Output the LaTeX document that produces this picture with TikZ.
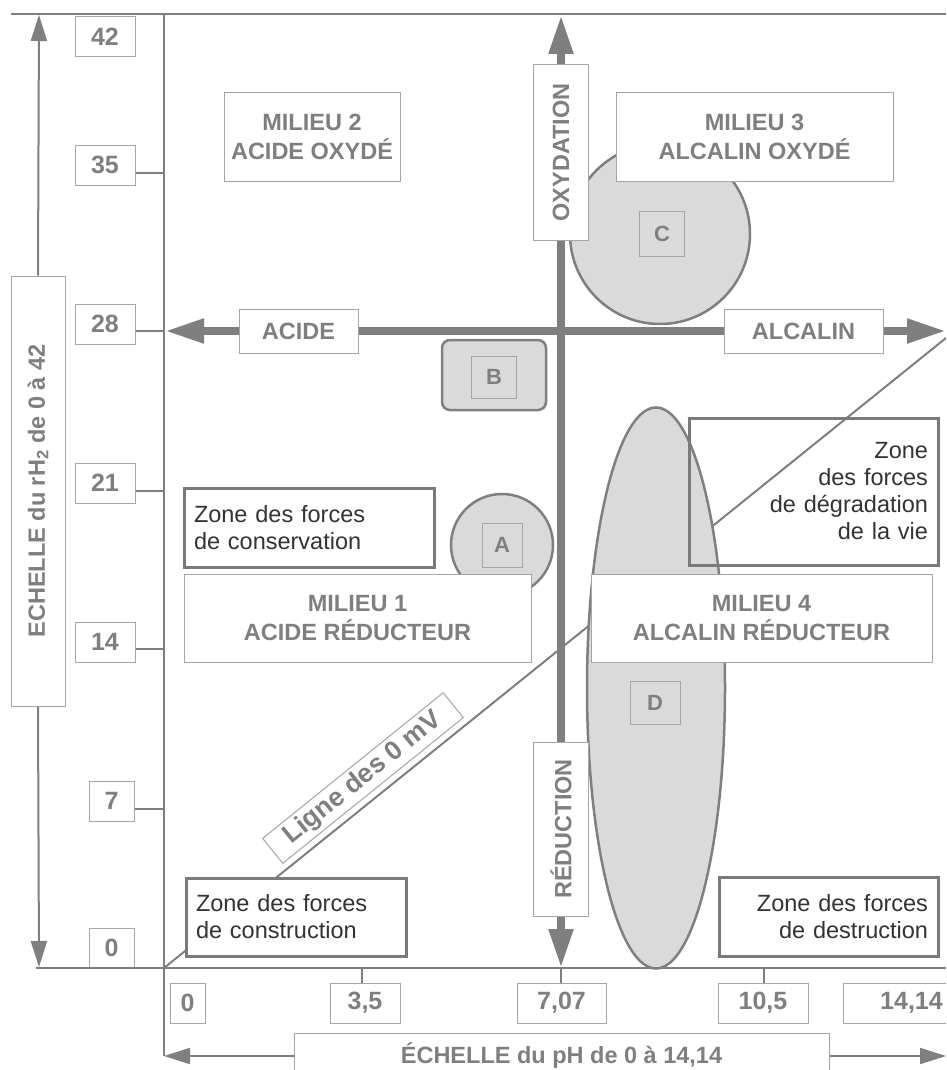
\documentclass[tikz,border=0pt]{standalone}
\usepackage{fontspec}
\setmainfont{Liberation Sans}
\usetikzlibrary{arrows.meta,shapes.geometric}
\definecolor{lg}{HTML}{7F7F7F}
\definecolor{bx}{HTML}{A6A6A6}
\definecolor{zf}{HTML}{DADADA}
\definecolor{dk}{HTML}{333333}
\definecolor{zb}{HTML}{7A7A7A}
\begin{document}
\begin{tikzpicture}[x=1pt,y=-1pt,
  lbl/.style={draw=bx, line width=1pt, fill=white, text=lg, font=\bfseries\fontsize{23.5}{29}\selectfont, inner sep=0pt, align=center},
  num/.style={lbl, font=\bfseries\fontsize{25}{29}\selectfont, minimum height=40pt},
  lettr/.style={draw=bx, line width=1pt, text=lg, font=\bfseries\fontsize{22}{26}\selectfont, inner sep=0pt},
  zone/.style={draw=zb, line width=3pt, fill=white, text=dk, font=\fontsize{23.5}{27}\selectfont, inner ysep=0pt, inner xsep=10pt},
  shp/.style={draw=lg, line width=2.5pt, fill=zf, inner sep=0pt},
  thinline/.style={draw=lg, line width=2pt},
  thinarr/.style={draw=lg, line width=2pt, -{Triangle[length=26pt,width=16pt]}},
  bigline/.style={draw=lg, line width=8pt},
  bigarr/.style={draw=lg, line width=8pt, -{Triangle[length=39pt,width=23pt]}}
]
\useasboundingbox (0,0) rectangle (946,1070);
\clip (0,0) rectangle (946,1070);

% coordinates
\coordinate (O) at (164,968);
\coordinate (Dend) at (946,338);
\coordinate (topL) at (11,14);
\coordinate (topR) at (946,14);
\coordinate (botL) at (36,968);
\coordinate (botR) at (946,968);
\coordinate (axTop) at (164,14);
\coordinate (axBot) at (164,1056);
\coordinate (phR) at (946,1056);
\coordinate (rhT) at (39,15);
\coordinate (rhB) at (39,967);
\coordinate (hL) at (165,331);
\coordinate (hR) at (946,331);
\coordinate (vT) at (561,15);
\coordinate (vB) at (561,968);
\coordinate (t35) at (164,173);
\coordinate (t28) at (164,331);
\coordinate (t21) at (164,491);
\coordinate (t14) at (164,649);
\coordinate (t7) at (164,809);
\coordinate (b35) at (362,968);
\coordinate (b707) at (561,968);
\coordinate (b105) at (764,968);

% line of 0 mV (underneath)
\draw[thinline] (O) -- (Dend);

% shapes
\node[shp, circle, minimum size=180pt] (cC) at (660,234) {};
\node[shp, circle, minimum size=102pt] (cA) at (502,545) {};
\node[shp, rounded corners=8pt, minimum width=104pt, minimum height=70pt] (rB) at (494,375) {};
\node[shp, ellipse, minimum width=138pt, minimum height=561pt] (eD) at (656,688) {};

\node[lettr, minimum width=40pt, minimum height=44pt] (lA) at (502,545) {A};
\node[lettr, minimum width=45pt, minimum height=42pt] (lB) at (494,377) {B};
\node[lettr, minimum width=45pt, minimum height=45pt] (lC) at (662,234) {C};
\node[lettr, minimum width=50pt, minimum height=43pt] (lD) at (655,703) {D};

% milieu boxes
\node[lbl, minimum width=176pt, minimum height=88pt] (m2) at (312,137) {MILIEU 2\\ACIDE OXYDÉ};
\node[lbl, minimum width=277pt, minimum height=88pt] (m3) at (754.5,137) {MILIEU 3\\ALCALIN OXYDÉ};
\node[lbl, minimum width=347pt, minimum height=88pt] (m1) at (357.5,618) {MILIEU 1\\ACIDE RÉDUCTEUR};
\node[lbl, minimum width=341pt, minimum height=88pt] (m4) at (761.5,618) {MILIEU 4\\ALCALIN RÉDUCTEUR};

% axis labels
\node[lbl, minimum width=119pt, minimum height=44pt] (acide) at (298.5,331) {ACIDE};
\node[lbl, minimum width=159pt, minimum height=44pt] (alcalin) at (803.5,331) {ALCALIN};
\node[lbl, rotate=90, minimum width=175pt, minimum height=55pt] (oxy) at (561,152.5) {OXYDATION};
\node[lbl, rotate=90, minimum width=174pt, minimum height=55pt] (red) at (561,829) {RÉDUCTION};

% zones
\node[zone, text width=230pt, minimum height=79pt, align=left] (zcons) at (309,527.5) {Zone des forces\\de conservation};
\node[zone, text width=200pt, minimum height=78pt, align=left] (zconst) at (296,917) {Zone des forces\\de construction};
\node[zone, text width=199pt, minimum height=79pt, align=right] (zdest) at (828.5,916.5) {Zone des forces\\de destruction};
\node[zone, fill=none, text width=229pt, minimum height=147pt, align=right] (zdeg) at (813.5,491.5) {Zone\\des forces\\de dégradation\\de la vie};

% line label
\node[lbl, rotate=38.9, minimum width=232pt, minimum height=32pt, font=\bfseries\fontsize{26.5}{30}\selectfont] (ligne) at (363,778) {Ligne des 0 mV};

% scales
\node[lbl, rotate=90, minimum width=430pt, minimum height=54pt] (rh) at (38,491) {ECHELLE du rH\textsubscript{2} de 0 à 42};
\node[lbl, minimum width=535pt, minimum height=46pt] (ph) at (561.5,1056) {ÉCHELLE du pH de 0 à 14,14};

% rH2 value boxes
\node[num, minimum width=60pt] (n42) at (105,37) {42};
\node[num, minimum width=60pt] (n35) at (105,165) {35};
\node[num, minimum width=60pt] (n28) at (105,324) {28};
\node[num, minimum width=60pt] (n21) at (105,483) {21};
\node[num, minimum width=60pt] (n14) at (105,642) {14};
\node[num, minimum width=45pt] (n7) at (111.5,801) {7};
\node[num, minimum width=45pt] (n0) at (111.5,948) {0};

% pH value boxes
\node[num, minimum width=35pt] (p0) at (187.5,1003) {0};
\node[num, minimum width=70pt] (p35) at (365,1003) {3,5};
\node[num, minimum width=89pt] (p707) at (561.5,1003) {7,07};
\node[num, minimum width=90pt] (p105) at (763,1003) {10,5};
\node[num, minimum width=137pt] (p1414) at (911.5,1003) {14,14};

% frame lines
\draw[thinline] (topL) -- (topR);
\draw[thinline] (botL) -- (botR);
\draw[thinline] (axTop) -- (axBot);

% ticks
\draw[thinline] (n35.east |- t35) -- (t35);
\draw[thinline] (n28.east |- t28) -- (t28);
\draw[thinline] (n21.east |- t21) -- (t21);
\draw[thinline] (n14.east |- t14) -- (t14);
\draw[thinline] (n7.east |- t7) -- (t7);
\draw[thinline] (b35) -- (b35 |- p35.north);
\draw[thinline] (b707) -- (b707 |- p707.north);
\draw[thinline] (b105) -- (b105 |- p105.north);

% scale arrows
\draw[thinarr] (rh.east) -- (rhT);
\draw[thinarr] (rh.west) -- (rhB);
\draw[thinarr] (ph.west) -- (axBot);
\draw[thinarr] (ph.east) -- (phR);

% main thick arrows
\draw[bigarr] (acide.west) -- (hL);
\draw[bigline] (acide.east) -- (alcalin.west);
\draw[bigarr] (alcalin.east) -- (hR);
\draw[bigarr] (oxy.east) -- (vT);
\draw[bigline] (oxy.west) -- (red.east);
\draw[bigarr] (red.west) -- (vB);
\end{tikzpicture}
\end{document}
